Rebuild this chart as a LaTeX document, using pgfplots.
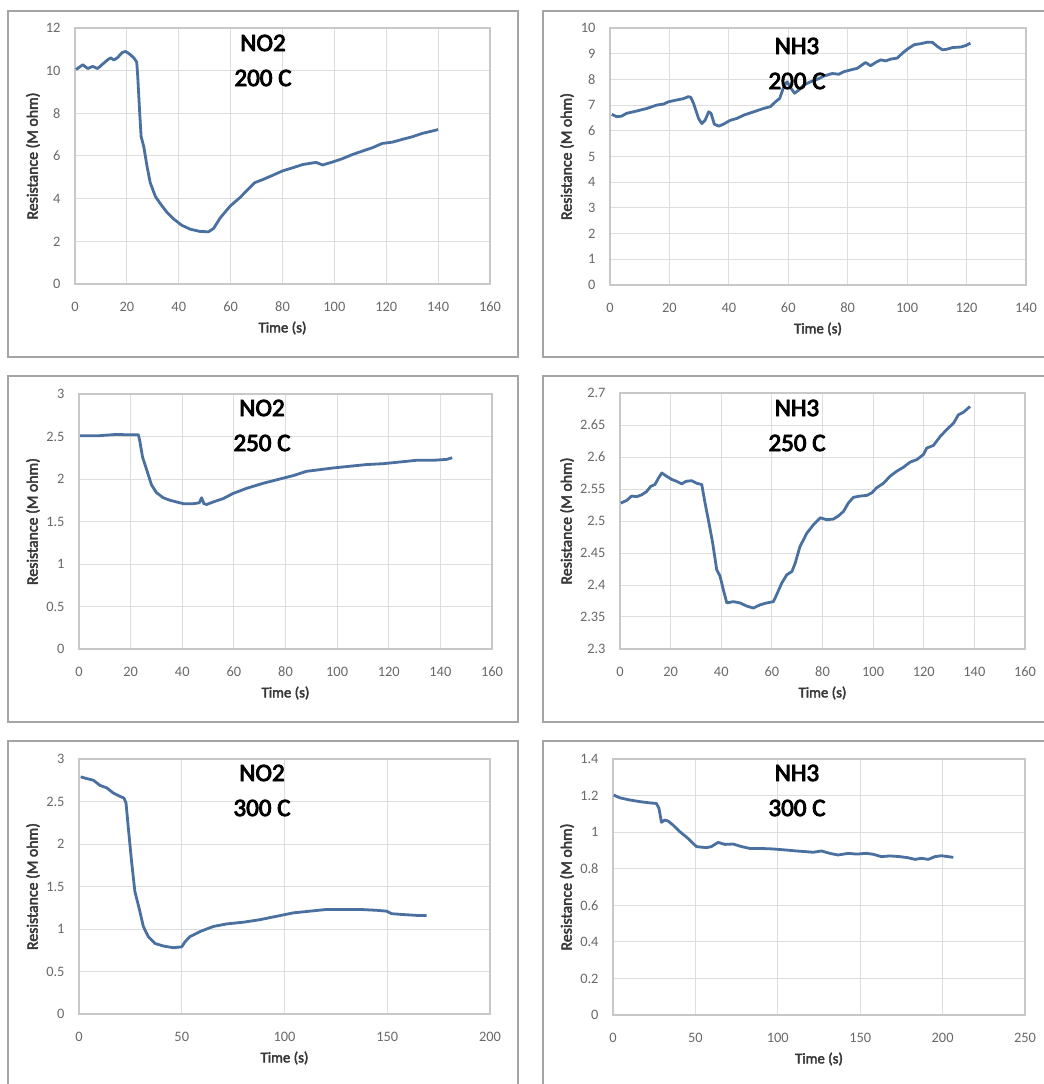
\documentclass[border=0pt]{standalone}
\usepackage{fontspec}
\setmainfont{Carlito}
\newfontfamily\cbold{Carlito}[FakeBold=2.6]
\newfontfamily\tbold{Carlito}[FakeBold=3.6]
\usepackage{pgfplots}
\pgfplotsset{compat=1.18}
\definecolor{lineblue}{RGB}{74,112,160}
\definecolor{framegray}{RGB}{165,165,165}
\definecolor{gridgray}{RGB}{222,222,222}
\definecolor{axisgray}{RGB}{200,200,200}
\definecolor{ticktext}{RGB}{105,105,105}
\definecolor{labeltext}{RGB}{55,55,55}
\pgfplotsset{
  curve/.style={lineblue, line width=1.4pt, mark=none, line join=round},
  panel/.style={
    scale only axis,
    anchor=south west,
    axis line style={draw=axisgray, line width=0.6pt},
    grid=major,
    grid style={draw=gridgray, line width=0.5pt},
    major tick length=0pt,
    tick style={draw=none},
    tick label style={font=\fontsize{7.2}{8}\selectfont, text=ticktext},
    /pgf/number format/assume math mode=true,
    /pgf/number format/fixed,
    /pgf/number format/precision=2,
    xticklabel style={yshift=-5.5pt},
    yticklabel style={xshift=-3.7pt},
    xlabel={Time (s)},
    ylabel={Resistance (M ohm)},
    every axis x label/.style={at={([yshift=-22pt]axis description cs:0.5,0)}, anchor=center, font=\cbold\fontsize{7.4}{9}\selectfont, text=labeltext},
  },
  ylabshift/.style={every axis y label/.style={at={([xshift=-#1]axis description cs:0,0.5)}, rotate=90, anchor=center, font=\cbold\fontsize{7.9}{9}\selectfont, text=labeltext}},
}
\begin{document}
\begin{tikzpicture}
\useasboundingbox (0,0) rectangle (522pt,542pt);
\clip (0,0) rectangle (522pt,542pt);
\fill[white] (0,0) rectangle (522pt,542pt);
% chart frames
\draw[framegray, line width=0.6pt] (4pt,363.5pt) rectangle (259pt,536.5pt);
\draw[framegray, line width=0.6pt] (271.5pt,363.5pt) rectangle (526pt,536.5pt);
\draw[framegray, line width=0.6pt] (4pt,181pt) rectangle (259pt,354pt);
\draw[framegray, line width=0.6pt] (271.5pt,181pt) rectangle (526pt,354pt);
\draw[framegray, line width=0.6pt] (4pt,-6pt) rectangle (259pt,171.5pt);
\draw[framegray, line width=0.6pt] (271.5pt,-6pt) rectangle (526pt,171.5pt);

% Panel 1: NO2 200 C
\begin{axis}[panel, ylabshift=21pt, at={(37.5pt,400pt)}, width=207.5pt, height=128pt,
  xmin=0, xmax=160, ymin=0, ymax=12, xtick={0,20,...,160}, ytick={0,2,...,12}]
\addplot[curve] coordinates {(0.4,10.05)(3,10.28)(4.9,10.1)(6.8,10.2)(8.7,10.1)(10.6,10.3)(12.5,10.5)(13.8,10.6)(15,10.5)(16.3,10.6)(18.2,10.85)(19.5,10.9)(20.8,10.8)(22.7,10.6)(23.8,10.4)(24.2,9.7)(25,7.9)(25.5,6.9)(26.5,6.45)(27.8,5.5)(29,4.75)(31,4.1)(33,3.75)(35.5,3.35)(38,3.05)(41.2,2.75)(44.4,2.57)(48.3,2.46)(51.5,2.45)(53.4,2.6)(56,3.1)(59.8,3.65)(63.6,4.05)(66.8,4.45)(69.3,4.75)(72.5,4.9)(76.3,5.1)(80,5.3)(84,5.45)(87.8,5.6)(92.9,5.7)(95.5,5.58)(99.3,5.72)(103,5.87)(107,6.07)(110.8,6.23)(114.7,6.39)(118.5,6.59)(120.5,6.62)(122.4,6.65)(126.2,6.78)(130,6.9)(133.9,7.06)(137.7,7.17)(140,7.24)};
\end{axis}

% Panel 2: NH3 200 C
\begin{axis}[panel, ylabshift=21.5pt, at={(305pt,399.5pt)}, width=208pt, height=128.5pt,
  xmin=0, xmax=140, ymin=0, ymax=10, xtick={0,20,...,140}, ytick={0,1,...,10}]
\addplot[curve] coordinates {(0.6,6.64)(2.2,6.55)(3.9,6.57)(5.6,6.68)(9,6.77)(12.4,6.87)(15.7,7.0)(18,7.04)(19.7,7.13)(22.5,7.2)(24.7,7.25)(26.4,7.33)(27.2,7.3)(28.1,7.07)(29.8,6.48)(30.9,6.28)(32,6.41)(33.2,6.74)(34,6.68)(35.1,6.26)(36.6,6.18)(38.2,6.26)(40.5,6.41)(42.7,6.48)(45,6.61)(48.4,6.74)(51.7,6.87)(54,6.94)(55.7,7.13)(57.1,7.26)(58.5,7.72)(59.6,7.91)(60.7,7.69)(62.1,7.46)(63.6,7.59)(65.2,7.78)(67.5,7.91)(69.7,8.0)(72,8.13)(74.8,8.23)(77,8.2)(78.7,8.3)(81,8.37)(83.2,8.43)(84.9,8.57)(86,8.66)(87.7,8.53)(89.4,8.66)(91.1,8.76)(92.8,8.72)(94.5,8.79)(96.7,8.83)(98.4,9.02)(100.1,9.18)(102.4,9.35)(104.6,9.39)(106.9,9.45)(108.5,9.44)(110.2,9.28)(111.9,9.15)(113.6,9.18)(115.3,9.24)(118.1,9.26)(119.8,9.32)(121.3,9.41)};
\end{axis}

% Panel 3: NO2 250 C
\begin{axis}[panel, ylabshift=23pt, at={(39.5pt,217.5pt)}, width=206.5pt, height=127.5pt,
  xmin=0, xmax=160, ymin=0, ymax=3, xtick={0,20,...,160}, ytick={0,0.5,1,1.5,2,2.5,3}]
\addplot[curve] coordinates {(0.4,2.51)(8.1,2.51)(14.6,2.525)(18.5,2.52)(23,2.52)(23.6,2.44)(24.6,2.26)(26.2,2.11)(28.1,1.93)(30,1.84)(32.6,1.78)(35.2,1.75)(37.8,1.73)(40.4,1.71)(44.3,1.71)(46.6,1.72)(47.5,1.78)(48.4,1.71)(49.4,1.70)(52,1.73)(55.9,1.77)(59.7,1.83)(64.9,1.89)(71.4,1.95)(77.8,2.0)(83,2.04)(88.1,2.09)(93.3,2.11)(98.5,2.13)(104.9,2.15)(111.4,2.17)(117.8,2.18)(124.3,2.20)(130.7,2.22)(137.1,2.22)(142.3,2.23)(144.6,2.25)};
\end{axis}

% Panel 4: NH3 250 C
\begin{axis}[panel, ylabshift=26.5pt, at={(310pt,217.5pt)}, width=202.5pt, height=128pt,
  xmin=0, xmax=160, ymin=2.3, ymax=2.7, xtick={0,20,...,160}, ytick={2.3,2.35,2.4,2.45,2.5,2.55,2.6,2.65,2.7}]
\addplot[curve] coordinates {(0.3,2.528)(2.6,2.532)(4.6,2.539)(6.6,2.538)(8.6,2.541)(10.5,2.546)(12.1,2.554)(13.8,2.557)(15.2,2.567)(16.5,2.575)(18.4,2.570)(20.4,2.565)(22.4,2.562)(24.4,2.558)(26.1,2.562)(28.3,2.563)(30.3,2.559)(32.3,2.557)(33.6,2.528)(34.9,2.502)(36.6,2.466)(38.2,2.424)(39.5,2.414)(40.8,2.393)(42.2,2.372)(44.8,2.374)(47.4,2.372)(50.1,2.367)(52.7,2.364)(55.3,2.369)(58,2.372)(60.6,2.374)(61.9,2.385)(63.9,2.403)(65.9,2.416)(67.9,2.421)(69.2,2.434)(71.1,2.460)(73.8,2.481)(76.4,2.494)(79.1,2.505)(81.7,2.502)(84.3,2.503)(86.3,2.508)(88.3,2.515)(90.2,2.528)(92.2,2.537)(94.9,2.539)(97.5,2.540)(99.5,2.544)(101.4,2.552)(104.1,2.559)(106.7,2.570)(109.4,2.578)(112,2.584)(114.6,2.592)(117.3,2.596)(119.9,2.604)(121.2,2.614)(123.8,2.618)(126.5,2.632)(129.1,2.643)(131.8,2.653)(133.7,2.666)(135.7,2.670)(138.3,2.679)};
\end{axis}

% Panel 5: NO2 300 C
\begin{axis}[panel, ylabshift=23pt, at={(39.5pt,35pt)}, width=205.5pt, height=127.5pt,
  xmin=0, xmax=200, ymin=0, ymax=3, xtick={0,50,...,200}, ytick={0,0.5,1,1.5,2,2.5,3}]
\addplot[curve] coordinates {(0.8,2.79)(3.7,2.77)(7,2.75)(10.2,2.69)(13.5,2.66)(16.7,2.60)(20,2.56)(21.9,2.54)(22.9,2.48)(24,2.19)(25.6,1.79)(27.2,1.44)(29.4,1.23)(31.3,1.03)(33.7,0.91)(37,0.83)(41,0.80)(45.9,0.78)(50,0.79)(51.6,0.85)(54,0.91)(58.9,0.97)(65.4,1.03)(71.9,1.06)(80,1.08)(88.1,1.11)(96.2,1.15)(104.3,1.19)(112.4,1.21)(120.5,1.23)(128.6,1.23)(136.7,1.23)(144.8,1.22)(149.7,1.21)(152.1,1.18)(157.8,1.17)(164.3,1.16)(169.2,1.16)};
\end{axis}

% Panel 6: NH3 300 C
\begin{axis}[panel, ylabshift=23pt, at={(306.5pt,34.5pt)}, width=206pt, height=128pt,
  xmin=0, xmax=250, ymin=0, ymax=1.4, xtick={0,50,...,250}, ytick={0,0.2,0.4,0.6,0.8,1,1.2,1.4}]
\addplot[curve] coordinates {(0.4,1.203)(4,1.188)(10.1,1.176)(16.2,1.167)(21.3,1.161)(26.3,1.157)(27.9,1.130)(29.4,1.054)(31.4,1.066)(33.4,1.061)(36.4,1.039)(40.5,1.003)(45.5,0.966)(50.6,0.921)(56.7,0.915)(59.7,0.921)(63.8,0.944)(67.8,0.933)(72.9,0.935)(78,0.921)(83,0.911)(89.1,0.911)(97.2,0.908)(105.3,0.902)(111.3,0.897)(117.4,0.893)(121.5,0.890)(126.5,0.897)(131.6,0.884)(136.6,0.875)(142.7,0.884)(147.8,0.880)(153.8,0.884)(157.9,0.879)(162.9,0.866)(168,0.870)(174.1,0.866)(179.1,0.860)(183.2,0.851)(187.2,0.857)(191.3,0.851)(195.3,0.866)(199.4,0.871)(203.4,0.866)(206.5,0.862)};
\end{axis}

% titles
\tikzset{ttl/.style={font=\tbold\fontsize{12.5}{17.5}\selectfont, align=center, text=black}}
\node[ttl] at (131.5pt,511.75pt) {NO2\\200 C};
\node[ttl] at (398.5pt,510.25pt) {NH3\\200 C};
\node[ttl] at (131pt,329.25pt) {NO2\\250 C};
\node[ttl] at (398.5pt,329.25pt) {NH3\\250 C};
\node[ttl] at (131pt,146.75pt) {NO2\\300 C};
\node[ttl] at (398.5pt,146.75pt) {NH3\\300 C};
\end{tikzpicture}
\end{document}
